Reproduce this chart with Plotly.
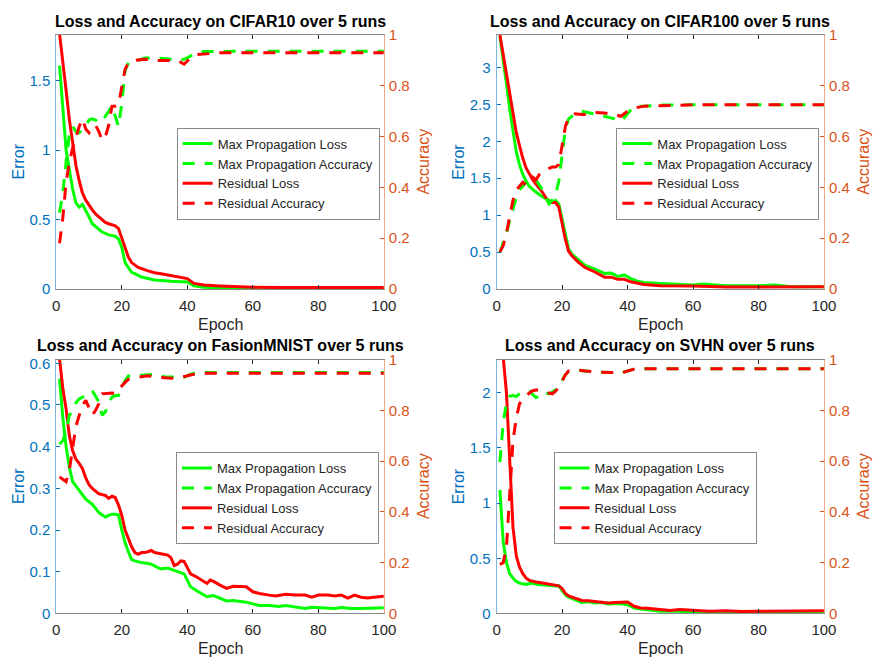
import plotly.graph_objects as go

# ---------------- data ----------------
titles = ["Loss and Accuracy on CIFAR10 over 5 runs",
          "Loss and Accuracy on CIFAR100 over 5 runs",
          "Loss and Accuracy on FasionMNIST over 5 runs",
          "Loss and Accuracy on SVHN over 5 runs"]
series_names = ["Max Propagation Loss", "Max Propagation Accuracy",
                "Residual Loss", "Residual Accuracy"]

# CIFAR10
c10_ep_mp_loss = [1,2,3,4,5,6,7,8,9,10,11,12,14,16,18,19,20,21,22,23,24,26,28,30,35,40,42,45,50,60,70,80,90,100]
c10_mp_loss = [1.61,1.28,1.00,0.86,0.72,0.62,0.59,0.61,0.57,0.52,0.47,0.45,0.41,0.39,0.38,0.36,0.30,0.19,0.15,0.12,0.11,0.086,
               0.075,0.065,0.056,0.051,0.023,0.012,0.009,0.006,0.005,0.005,0.005,0.005]
c10_ep_res_loss = list(range(1, 24)) + [25,28,30,32,35,38,40,42,45,50,55,60,70,80,90,100]
c10_res_loss = [1.84,1.65,1.43,1.22,1.04,0.89,0.78,0.69,0.64,0.60,0.57,0.54,0.52,0.495,0.48,0.47,0.465,0.455,0.435,0.37,0.29,0.23,0.19,
                0.155,0.13,0.117,0.11,0.098,0.086,0.075,0.04,0.028,0.021,0.014,0.012,0.01,0.01,0.01,0.01]
c10_ep_mp_acc = list(range(1, 23)) + [25,27,30,35,38,40,42,45,50,60,70,80,90,100]
c10_mp_acc = [0.30,0.38,0.50,0.61,0.64,0.62,0.615,0.63,0.645,0.665,0.67,0.665,0.655,0.66,0.68,0.70,0.72,0.68,0.64,0.73,0.86,0.89,
              0.90,0.91,0.91,0.905,0.90,0.91,0.925,0.935,0.936,0.936,0.936,0.936,0.936,0.936]
c10_ep_res_acc = list(range(1, 23)) + [24,27,30,35,37,39,41,43,50,60,70,80,90,100]
c10_res_acc = [0.18,0.28,0.42,0.50,0.555,0.60,0.64,0.67,0.63,0.615,0.635,0.645,0.62,0.585,0.60,0.645,0.72,0.72,0.725,0.795,0.865,0.89,
               0.90,0.905,0.90,0.90,0.90,0.885,0.91,0.923,0.93,0.93,0.93,0.93,0.93,0.93]

# CIFAR100
c100_ep_mp_loss = list(range(1, 24)) + [25,27,30,33,35,37,39,41,43,45,50,55,60,63,70,80,85,90,100]
c100_mp_loss = [3.42,3.13,2.78,2.43,2.12,1.86,1.68,1.55,1.46,1.39,1.35,1.31,1.28,1.25,1.23,1.20,1.17,1.20,1.15,0.93,0.71,0.54,0.47,
                0.40,0.32,0.27,0.21,0.215,0.17,0.19,0.14,0.105,0.088,0.075,0.066,0.053,0.066,0.044,0.044,0.053,0.031,0.031]
c100_ep_res_loss = list(range(1, 24)) + [25,27,30,33,35,37,39,41,45,50,60,70,80,90,100]
c100_res_loss = [3.44,3.18,2.91,2.65,2.38,2.12,1.94,1.77,1.64,1.55,1.48,1.42,1.37,1.31,1.24,1.17,1.17,1.17,1.11,0.89,0.67,0.51,0.45,
                 0.36,0.29,0.23,0.16,0.16,0.13,0.13,0.097,0.062,0.044,0.04,0.026,0.026,0.026,0.03]
c100_ep_mp_acc = list(range(1, 23)) + [24,26,28,30,33,36,38,40,42,45,50,60,70,80,90,100]
c100_mp_acc = [0.143,0.18,0.22,0.27,0.32,0.36,0.39,0.405,0.42,0.425,0.44,0.43,0.41,0.39,0.36,0.335,0.35,0.37,0.425,0.54,0.63,0.67,
               0.69,0.70,0.695,0.69,0.68,0.67,0.66,0.69,0.72,0.72,0.724,0.725,0.725,0.725,0.725,0.725]
c100_ep_res_acc = list(range(1, 23)) + [24,26,27,29,33,36,38,40,42,45,50,60,70,80,90,100]
c100_res_acc = [0.146,0.17,0.22,0.28,0.35,0.39,0.405,0.42,0.41,0.42,0.44,0.43,0.45,0.46,0.47,0.475,0.48,0.48,0.49,0.565,0.64,0.675,
                0.69,0.687,0.687,0.695,0.693,0.687,0.68,0.70,0.712,0.72,0.722,0.725,0.725,0.725,0.725,0.725]

# FashionMNIST
fm_ep_mp_loss = list(range(1, 25)) + [26,28,29,31,32,34,36,38,39,40,41,43,45,46,48,50,52,54,56,58,60,62,65,68,70,73,76,78,80,85,87,90,93,95,100]
fm_mp_loss = [0.563,0.47,0.40,0.35,0.316,0.305,0.297,0.285,0.274,0.268,0.262,0.252,0.242,0.236,0.231,0.235,0.238,0.238,0.236,0.20,0.17,0.148,0.129,0.126,
              0.122,0.12,0.118,0.11,0.107,0.109,0.104,0.099,0.095,0.08,0.064,0.054,0.044,0.04,0.043,0.037,0.03,0.031,0.029,0.027,
              0.023,0.019,0.019,0.017,0.019,0.015,0.012,0.015,0.014,0.012,0.014,0.012,0.012,0.013,0.014]
fm_ep_res_loss = list(range(1, 31)) + [32,34,35,36,37,38,39,40,41,43,45,46,47,48,50,52,54,56,58,60,62,65,67,70,73,76,78,80,83,85,87,89,91,93,95,97,100]
fm_res_loss = [0.61,0.54,0.49,0.426,0.39,0.37,0.36,0.347,0.325,0.309,0.30,0.293,0.287,0.285,0.283,0.276,0.281,0.278,0.26,0.235,
               0.20,0.18,0.16,0.146,0.142,0.146,0.146,0.148,0.151,0.146,
               0.143,0.14,0.134,0.115,0.118,0.126,0.125,0.111,0.095,0.087,0.076,0.072,0.08,0.077,0.068,0.06,0.065,0.064,0.064,0.052,
               0.048,0.044,0.042,0.046,0.044,0.044,0.039,0.044,0.044,0.042,0.044,0.037,0.044,0.039,0.037,0.039,0.041]
fm_ep_mp_acc = list(range(1, 23)) + [24,27,30,33,36,39,41,43,50,60,70,80,90,100]
fm_mp_acc = [0.666,0.68,0.72,0.78,0.80,0.83,0.845,0.85,0.858,0.866,0.877,0.855,0.833,0.781,0.794,0.83,0.852,0.858,0.858,0.885,0.917,0.935,
             0.936,0.94,0.942,0.932,0.93,0.93,0.942,0.949,0.949,0.949,0.949,0.949,0.949,0.949]
fm_ep_res_acc = list(range(1, 23)) + [25,28,31,35,38,40,42,45,50,60,70,80,90,100]
fm_res_acc = [0.538,0.53,0.519,0.564,0.65,0.737,0.78,0.82,0.839,0.81,0.781,0.80,0.826,0.865,0.866,0.867,0.868,0.866,0.879,0.896,0.91,0.922,
              0.93,0.936,0.93,0.926,0.93,0.936,0.942,0.946,0.946,0.946,0.946,0.946,0.946,0.946]

# SVHN
sv_ep_mp_loss = list(range(1, 13)) + [14,16,18,19,20,21,22,24,26,28,30,32,34,36,38,40,42,44,46,50,55,60,70,80,100]
sv_mp_loss = [1.12,0.65,0.46,0.36,0.32,0.29,0.275,0.265,0.262,0.27,0.275,0.265,
              0.26,0.25,0.248,0.25,0.212,0.168,0.147,0.124,0.10,0.106,0.094,0.10,0.085,0.088,0.088,0.079,0.05,0.041,0.035,0.02,
              0.02,0.015,0.015,0.015,0.012]
sv_ep_res_loss = list(range(1, 13)) + [14,16,18,19,20,21,22,24,26,28,30,32,34,36,38,40,42,44,46,50,53,56,60,65,70,75,80,90,95,100]
sv_res_loss = [2.35,2.32,2.0,1.35,0.78,0.52,0.42,0.36,0.32,0.30,0.29,0.285,
               0.275,0.265,0.26,0.25,0.226,0.182,0.159,0.138,0.118,0.115,0.109,0.106,0.094,0.10,0.10,0.103,0.065,0.05,0.047,0.035,
               0.026,0.035,0.026,0.02,0.024,0.018,0.02,0.02,0.018,0.024]
sv_ep_mp_acc = list(range(1, 23)) + [24,27,30,35,38,40,42,45,50,60,70,80,90,100]
sv_mp_acc = [0.596,0.75,0.83,0.855,0.858,0.855,0.865,0.87,0.877,0.875,0.862,0.85,0.855,0.871,0.868,0.865,0.872,0.88,0.895,0.915,0.94,0.954,
             0.959,0.955,0.951,0.949,0.946,0.955,0.962,0.964,0.964,0.964,0.964,0.964,0.964,0.964]
sv_ep_res_acc = list(range(1, 23)) + [24,27,30,35,38,40,42,45,50,60,70,80,90,100]
sv_res_acc = [0.193,0.20,0.26,0.48,0.68,0.77,0.826,0.845,0.858,0.868,0.877,0.88,0.88,0.875,0.871,0.868,0.865,0.875,0.89,0.915,0.94,0.955,
              0.959,0.955,0.951,0.949,0.946,0.955,0.962,0.964,0.964,0.964,0.964,0.964,0.964,0.964]

error_max = [1.83, 3.44, 0.609, 2.30]
error_dtick = [0.5, 0.5, 0.1, 0.5]

panels = [
    [(c10_ep_mp_loss, c10_mp_loss), (c10_ep_mp_acc, c10_mp_acc), (c10_ep_res_loss, c10_res_loss), (c10_ep_res_acc, c10_res_acc)],
    [(c100_ep_mp_loss, c100_mp_loss), (c100_ep_mp_acc, c100_mp_acc), (c100_ep_res_loss, c100_res_loss), (c100_ep_res_acc, c100_res_acc)],
    [(fm_ep_mp_loss, fm_mp_loss), (fm_ep_mp_acc, fm_mp_acc), (fm_ep_res_loss, fm_res_loss), (fm_ep_res_acc, fm_res_acc)],
    [(sv_ep_mp_loss, sv_mp_loss), (sv_ep_mp_acc, sv_mp_acc), (sv_ep_res_loss, sv_res_loss), (sv_ep_res_acc, sv_res_acc)],
]

# ---------------- layout geometry (pixels) ----------------
W, H = 884, 666
FONT = "Liberation Sans, Arial, Helvetica, sans-serif"
BLUE = "#0072BD"
ORANGE = "#D95319"
DARK = "#262626"
GREEN = "#00FF00"
RED = "#FF0000"

plot_boxes = [  # left, right, top, bottom in px
    (53.3, 387.3, 26.7, 287.3),
    (502.3, 836.0, 26.7, 287.3),
    (53.3, 387.3, 359.7, 620.3),
    (502.3, 836.0, 359.7, 620.3),
]
legend_right_px = [383.0, 831.3, 382.3, 767.3]

def px(x):
    return x / W

def py(y):
    return 1 - y / H

styles = [(GREEN, "solid", "L"), (GREEN, "12px,10px", "R"), (RED, "solid", "L"), (RED, "12px,10px", "R")]

fig = go.Figure()
layout = dict(width=W, height=H, margin=dict(l=0, r=0, t=0, b=0),
              paper_bgcolor="white", plot_bgcolor="white",
              font=dict(family=FONT, color=DARK), showlegend=True)
annotations = []

for p, series in enumerate(panels):
    l, r, t, b = plot_boxes[p]
    xa = "x" if p == 0 else f"x{p+1}"
    yl_n = 2 * p + 1
    yr_n = 2 * p + 2
    yl = "y" if yl_n == 1 else f"y{yl_n}"
    yr = f"y{yr_n}"
    leg = "legend" if p == 0 else f"legend{p+1}"

    for (xs, ys), name, (col, dash, side) in zip(series, series_names, styles):
        fig.add_trace(go.Scatter(
            x=xs, y=ys, mode="lines", name=name,
            line=dict(color=col, width=3, dash=dash),
            xaxis=xa, yaxis=yl if side == "L" else yr,
            legend=leg, hoverinfo="skip"))

    layout["xaxis" if p == 0 else f"xaxis{p+1}"] = dict(
        domain=[px(l), px(r)], anchor=yl, range=[0, 100], dtick=20, tick0=0,
        ticks="inside", ticklen=4, tickcolor=DARK, showline=True, linecolor="#8a8a8a",
        linewidth=1, mirror="ticks", showgrid=False, zeroline=False, ticklabelstandoff=3,
        tickfont=dict(size=15, color=DARK, family=FONT))
    layout["yaxis" if yl_n == 1 else f"yaxis{yl_n}"] = dict(
        domain=[py(b), py(t)], anchor=xa, range=[0, error_max[p]], dtick=error_dtick[p], tick0=0,
        ticks="inside", ticklen=4, tickcolor=BLUE, showline=True, linecolor="#7db5de",
        linewidth=1, showgrid=False, zeroline=False, ticklabelstandoff=2,
        tickfont=dict(size=15, color=BLUE, family=FONT))
    layout[f"yaxis{yr_n}"] = dict(
        domain=[py(b), py(t)], anchor=xa, overlaying=yl, side="right", range=[0, 1], dtick=0.2, tick0=0,
        ticks="inside", ticklen=4, tickcolor=ORANGE, showline=True, linecolor="#eca98c",
        linewidth=1, showgrid=False, zeroline=False, ticklabelstandoff=1,
        tickfont=dict(size=15, color=ORANGE, family=FONT))
    layout[leg] = dict(
        x=px(legend_right_px[p]), xanchor="right", y=py(t + 95), yanchor="top",
        bgcolor="white", bordercolor="#8a8a8a", borderwidth=1,
        font=dict(size=13, color=DARK, family=FONT), itemclick=False, itemdoubleclick=False)

    cx = (l + r) / 2
    cy = (t + b) / 2
    annotations.append(dict(text=f"<b>{titles[p]}</b>", x=px(cx), y=py(t - 14), xref="paper", yref="paper",
                            xanchor="center", yanchor="middle", showarrow=False,
                            font=dict(size=16, color="black", family=FONT)))
    annotations.append(dict(text="Epoch", x=px(cx), y=py(b + 36), xref="paper", yref="paper",
                            xanchor="center", yanchor="middle", showarrow=False,
                            font=dict(size=16, color=DARK, family=FONT)))
    annotations.append(dict(text="Error", x=px(l - 38.5), y=py(cy), xref="paper", yref="paper",
                            xanchor="center", yanchor="middle", showarrow=False, textangle=-90,
                            font=dict(size=16, color=BLUE, family=FONT)))
    annotations.append(dict(text="Accuracy", x=px(r + 40.5), y=py(cy), xref="paper", yref="paper",
                            xanchor="center", yanchor="middle", showarrow=False, textangle=-90,
                            font=dict(size=16, color=ORANGE, family=FONT)))

layout["annotations"] = annotations
fig.update_layout(**layout)
fig.write_html("out.html",
               config={"displayModeBar": False},
               post_script="document.documentElement.style.margin='0px';document.body.style.margin='0px';document.body.style.overflow='hidden';")
